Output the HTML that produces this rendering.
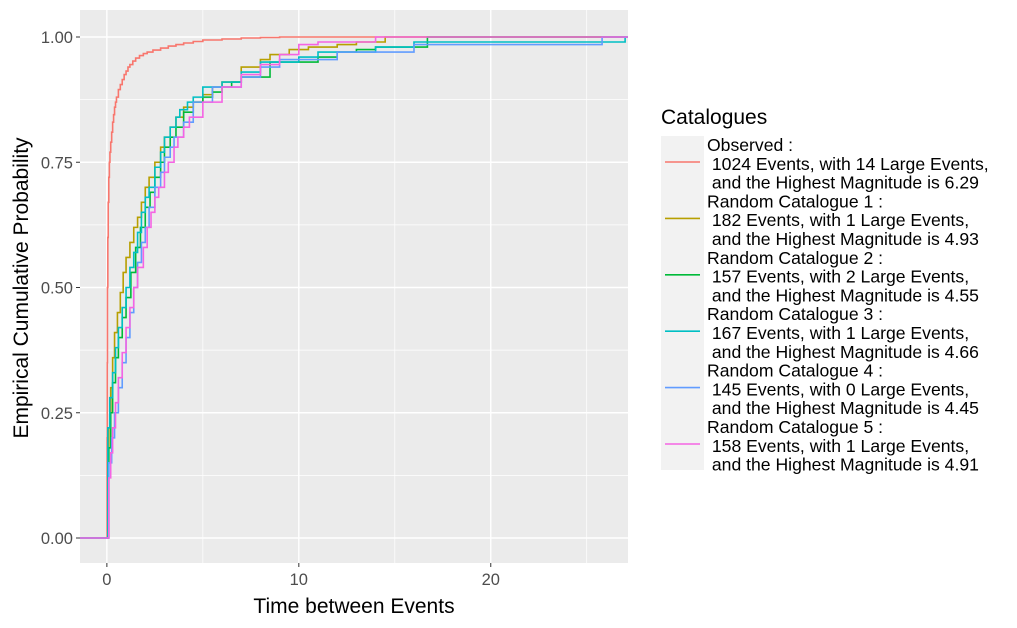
<!DOCTYPE html>
<html><head><meta charset="utf-8"><style>
html,body{margin:0;padding:0;background:#fff;}
svg{display:block;font-family:"Liberation Sans",Arial,sans-serif;}
</style></head><body>
<svg id="chart" width="1017" height="628" viewBox="0 0 1017 628">
  <rect x="80" y="10" width="548" height="553" fill="#ebebeb"/>
  <g id="grid"></g>
  <g id="series"></g>
  <g id="axes"></g>
  <text x="354" y="613" text-anchor="middle" font-size="21" fill="#000">Time between Events</text>
  <text transform="translate(28,288) rotate(-90)" text-anchor="middle" font-size="21" fill="#000">Empirical Cumulative Probability</text>
  <g id="legend">
    <text x="661" y="124" font-size="21" fill="#000">Catalogues</text>
    <rect x="661" y="136" width="43" height="334" fill="#f2f2f2"/>
  </g>
</svg>
<script>
const NS='http://www.w3.org/2000/svg';
const colors=['#F8766D','#B79F00','#00BA38','#00BFC4','#619CFF','#F564E3'];
const xTicks=[0,10,20];
const yTicks=[0,0.25,0.5,0.75,1];
const yTickLabels=['0.00','0.25','0.50','0.75','1.00'];
const seriesNames=['Observed','Random Catalogue 1','Random Catalogue 2','Random Catalogue 3','Random Catalogue 4','Random Catalogue 5'];
const eventCounts=[1024,182,157,167,145,158];
const largeEvents=[14,1,2,1,0,1];
const maxMags=['6.29','4.93','4.55','4.66','4.45','4.91'];
const observedX=[0,0.01,0.02,0.03,0.05,0.07,0.1,0.13,0.16,0.2,0.25,0.3,0.35,0.4,0.45,0.5,0.6,0.7,0.8,0.9,1.0,1.1,1.2,1.35,1.5,1.7,1.9,2.1,2.4,2.8,3.2,3.6,4,4.5,5,6,7,8,9];
const observedY=[0,0.2,0.35,0.5,0.6,0.67,0.72,0.75,0.77,0.79,0.81,0.83,0.845,0.86,0.87,0.88,0.895,0.905,0.915,0.925,0.932,0.94,0.945,0.952,0.958,0.963,0.967,0.97,0.974,0.978,0.982,0.985,0.988,0.991,0.994,0.996,0.998,0.999,1];
const cat1X=[0,0.05,0.1,0.2,0.3,0.4,0.55,0.7,0.85,1,1.2,1.4,1.6,1.8,2,2.2,2.5,2.8,3,3.3,3.6,4,4.5,5,5.5,6,7,8,8.5,9.5,10.5,12,13,14.5];
const cat1Y=[0,0.15,0.22,0.3,0.36,0.41,0.45,0.49,0.53,0.56,0.59,0.62,0.64,0.67,0.7,0.72,0.75,0.78,0.8,0.82,0.84,0.86,0.87,0.885,0.9,0.91,0.94,0.955,0.965,0.975,0.98,0.985,0.99,1];
const cat2X=[0,0.1,0.2,0.3,0.45,0.6,0.8,1,1.25,1.5,1.75,2,2.25,2.5,2.8,3,3.3,3.6,4,4.5,5,5.5,6,6.5,7,8.5,11,12,13,14,16.7];
const cat2Y=[0,0.18,0.25,0.31,0.36,0.4,0.44,0.48,0.53,0.58,0.62,0.66,0.69,0.72,0.75,0.78,0.8,0.82,0.85,0.87,0.88,0.89,0.9,0.91,0.92,0.95,0.96,0.97,0.975,0.98,1];
const cat3X=[0,0.05,0.15,0.3,0.45,0.6,0.8,1,1.2,1.4,1.6,1.8,2,2.2,2.5,2.8,3,3.3,3.6,3.8,4.2,4.5,5,6,7,8,10,11,14,16,27];
const cat3Y=[0,0.22,0.28,0.33,0.38,0.42,0.46,0.5,0.54,0.57,0.61,0.65,0.68,0.7,0.74,0.77,0.8,0.82,0.84,0.855,0.87,0.88,0.9,0.91,0.93,0.95,0.96,0.97,0.98,0.99,1];
const cat4X=[0,0.1,0.25,0.4,0.6,0.8,1,1.2,1.4,1.6,1.8,2,2.2,2.5,2.8,3,3.3,3.5,4,4.5,5.5,7,8,9,12,16,25.8];
const cat4Y=[0,0.15,0.2,0.25,0.3,0.35,0.4,0.45,0.5,0.55,0.59,0.62,0.66,0.7,0.73,0.76,0.78,0.8,0.83,0.87,0.9,0.92,0.94,0.955,0.97,0.985,1];
const cat5X=[0,0.1,0.2,0.3,0.45,0.6,0.8,1,1.2,1.4,1.6,1.9,2.1,2.3,2.5,2.7,3,3.2,3.5,3.7,4,4.3,5,6,7,8,9,10,11,14];
const cat5Y=[0,0.12,0.17,0.22,0.27,0.32,0.37,0.42,0.46,0.5,0.54,0.58,0.62,0.65,0.68,0.7,0.73,0.75,0.78,0.8,0.82,0.84,0.87,0.9,0.925,0.945,0.965,0.985,0.99,1];
const allX=[observedX,cat1X,cat2X,cat3X,cat4X,cat5X];
const allY=[observedY,cat1Y,cat2Y,cat3Y,cat4Y,cat5Y];

const X0=80,X1=628,Y0=10,Y1=563;
const xMin=-1.4,xMax=27.15;
function sx(v){return X0+(v-xMin)/(xMax-xMin)*(X1-X0);}
function sy(v){return 538-v*501;}
function mk(tag,attrs,parent){const e=document.createElementNS(NS,tag);for(const k in attrs)e.setAttribute(k,attrs[k]);parent.appendChild(e);return e;}

const grid=document.getElementById('grid');
[0.125,0.375,0.625,0.875].forEach(v=>{
  const l=mk('line',{x1:X0,x2:X1,y1:sy(v),y2:sy(v),stroke:'#fff','stroke-width':0.7},grid);
  
  
});
[5,15,25].forEach(v=>{
  const l=mk('line',{x1:sx(v),x2:sx(v),y1:Y0,y2:Y1,stroke:'#fff','stroke-width':0.7},grid);
  
  
});
yTicks.forEach(v=>{
  const l=mk('line',{x1:X0,x2:X1,y1:sy(v),y2:sy(v),stroke:'#fff','stroke-width':1.4},grid);
  
  
});
xTicks.forEach(v=>{
  const l=mk('line',{x1:sx(v),x2:sx(v),y1:Y0,y2:Y1,stroke:'#fff','stroke-width':1.4},grid);
  
  
});

const axes=document.getElementById('axes');
yTicks.forEach((v,i)=>{
  const t=mk('line',{x1:X0-4,x2:X0,y1:sy(v),y2:sy(v),stroke:'#333','stroke-width':1},axes);
  
  
  const tx=mk('text',{x:X0-7,y:sy(v)+6,'text-anchor':'end','font-size':16.5,fill:'#4d4d4d'},axes);
  tx.textContent=yTickLabels[i];
  
  
});
xTicks.forEach(v=>{
  const t=mk('line',{x1:sx(v),x2:sx(v),y1:Y1,y2:Y1+4,stroke:'#333','stroke-width':1},axes);
  
  
  const tx=mk('text',{x:sx(v),y:Y1+22,'text-anchor':'middle','font-size':16.5,fill:'#4d4d4d'},axes);
  tx.textContent=String(v);
  
  
});

const sg=document.getElementById('series');
allX.forEach((xs,i)=>{
  const ys=allY[i];
  let d='M'+X0+','+sy(0);
  for(let k=0;k<xs.length;k++){
    d+=' H'+sx(xs[k])+' V'+sy(ys[k]);
  }
  d+=' H'+X1;
  const p=mk('path',{d:d,fill:'none',stroke:colors[i],'stroke-width':1.6},sg);
  
  
});

const lg=document.getElementById('legend');
seriesNames.forEach((n,i)=>{
  const base=145+i*56.4;
  const key=mk('line',{x1:665,x2:700,y1:base+17,y2:base+17,stroke:colors[i],'stroke-width':1.6},lg);
  
  
  const lines=[n+' :',' '+eventCounts[i]+' Events, with '+largeEvents[i]+' Large Events,',' and the Highest Magnitude is '+maxMags[i]];
  lines.forEach((s,j)=>{
    const t=mk('text',{x:707,y:base+6+j*18.8,'font-size':17.6,fill:'#000'},lg);
    t.style.whiteSpace='pre';
    t.textContent=s;
    
    
  });
});
</script>
</body></html>
